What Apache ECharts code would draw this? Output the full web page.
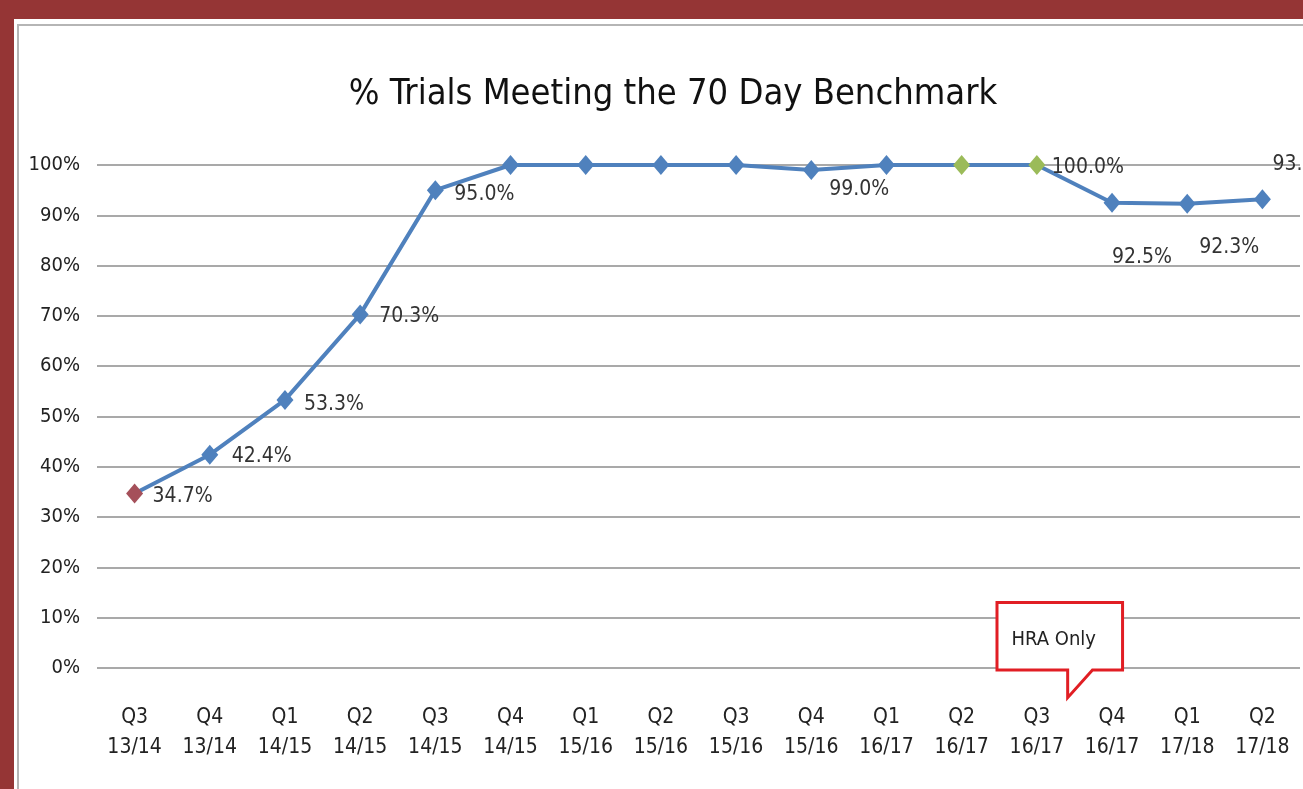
<!DOCTYPE html>
<html>
<head>
<meta charset="utf-8">
<script src="https://cdn.jsdelivr.net/npm/echarts@6/dist/echarts.min.js"></script>
<style>
  html, body { margin: 0; padding: 0; width: 1303px; height: 789px; overflow: hidden; background: #953535; }
  #panel { position: absolute; left: 14px; top: 19px; width: 1400px; height: 900px; background: #fff; }
  #frame { position: absolute; left: 17px; top: 24px; width: 1400px; height: 900px; border: 2px solid #b5b5b5; box-sizing: border-box; }
  #chart { position: absolute; left: 0; top: 0; width: 1303px; height: 789px; }
</style>
</head>
<body>
<div id="panel"></div>
<div id="frame"></div>
<div id="chart"></div>
<script>
var categories = ["Q3\n13/14", "Q4\n13/14", "Q1\n14/15", "Q2\n14/15", "Q3\n14/15", "Q4\n14/15",
  "Q1\n15/16", "Q2\n15/16", "Q3\n15/16", "Q4\n15/16", "Q1\n16/17", "Q2\n16/17",
  "Q3\n16/17", "Q4\n16/17", "Q1\n17/18", "Q2\n17/18"];
var values = [34.7, 42.4, 53.3, 70.3, 95.0, 100, 100, 100, 100, 99.0, 100, 100, 100, 92.5, 92.3, 93.2];
var labelled = [0, 1, 2, 3, 4, 9, 12, 13, 14, 15];
var yTicks = [0, 10, 20, 30, 40, 50, 60, 70, 80, 90, 100];

var font = "'Liberation Sans Narrow', 'DejaVu Sans Condensed', sans-serif";
// label placement per point: [dx, dy] from the marker centre
var labelOffset = {
  0: [18, 3], 1: [22, 2], 2: [19, 5], 3: [19, 2], 4: [19, 4],
  9: [18, 20], 12: [15, 3], 13: [0, 55], 14: [12, 44], 15: [10, -35]
};
var pointColor = { 0: "#A5505A", 11: "#9BBB59", 12: "#9BBB59" };

var seriesData = values.map(function (v, i) {
  var item = { value: v, itemStyle: { color: pointColor[i] || "#4F81BD" } };
  if (labelled.indexOf(i) >= 0) {
    item.label = {
      show: true,
      position: "inside",
      align: "left",
      verticalAlign: "middle",
      offset: labelOffset[i],
      formatter: v.toFixed(1) + "%"
    };
  }
  return item;
});

var chart = echarts.init(document.getElementById("chart"));
var option = {
  animation: false,
  title: {
    text: "% Trials Meeting the 70 Day Benchmark",
    left: 668,
    top: 72,
    textAlign: "center",
    textStyle: { fontFamily: font, fontSize: 36, fontWeight: 500, color: "#111" }
  },
  grid: { left: 97, right: 3, top: 165, bottom: 121, containLabel: false },
  xAxis: {
    type: "category",
    data: categories,
    boundaryGap: true,
    axisLine: { show: false },
    axisTick: { show: false },
    axisLabel: {
      interval: 0,
      margin: 35,
      fontFamily: font,
      fontSize: 21,
      lineHeight: 30,
      color: "#222"
    }
  },
  yAxis: {
    type: "value",
    min: yTicks[0],
    max: yTicks[yTicks.length - 1],
    interval: yTicks[1] - yTicks[0],
    axisLine: { show: false },
    axisTick: { show: false },
    axisLabel: {
      margin: 17,
      fontFamily: font,
      fontSize: 20,
      color: "#222",
      formatter: "{value}%"
    },
    splitLine: { lineStyle: { color: "#8c8c8c", width: 1.5 } }
  },
  series: [{
    type: "line",
    data: seriesData,
    symbol: "diamond",
    symbolSize: [17, 20],
    lineStyle: { color: "#4F81BD", width: 4 },
    label: { fontFamily: font, fontSize: 21, color: "#333" },
    z: 3
  }]
};
chart.setOption(option);

// "HRA Only" callout anchored to the Q3 16/17 / Q4 16/17 columns
var x12 = chart.convertToPixel({ xAxisIndex: 0 }, 12);
var x13 = chart.convertToPixel({ xAxisIndex: 0 }, 13);
var step = x13 - x12;
var yTop = chart.convertToPixel({ yAxisIndex: 0 }, 13);
var yBot = chart.convertToPixel({ yAxisIndex: 0 }, -0.4);
var yTip = chart.convertToPixel({ yAxisIndex: 0 }, -5.9);
var bx0 = x12 - 0.53 * step, bx1 = x12 + 1.14 * step;
var tx0 = x12 + 0.41 * step, tx1 = x12 + 0.74 * step;
chart.setOption({
  graphic: [{
    type: "polygon",
    shape: { points: [[bx0, yTop], [bx1, yTop], [bx1, yBot], [tx1, yBot], [tx0, yTip], [tx0, yBot], [bx0, yBot]] },
    style: { fill: "#fff", stroke: "#E11E24", lineWidth: 3 },
    z: 10
  }, {
    type: "text",
    x: (bx0 + bx1) / 2 - 6,
    y: (yTop + yBot) / 2 + 3,
    style: { text: "HRA Only", fontFamily: font, fontSize: 20, fill: "#222", align: "center", verticalAlign: "middle" },
    z: 11
  }]
});
</script>
</body>
</html>
